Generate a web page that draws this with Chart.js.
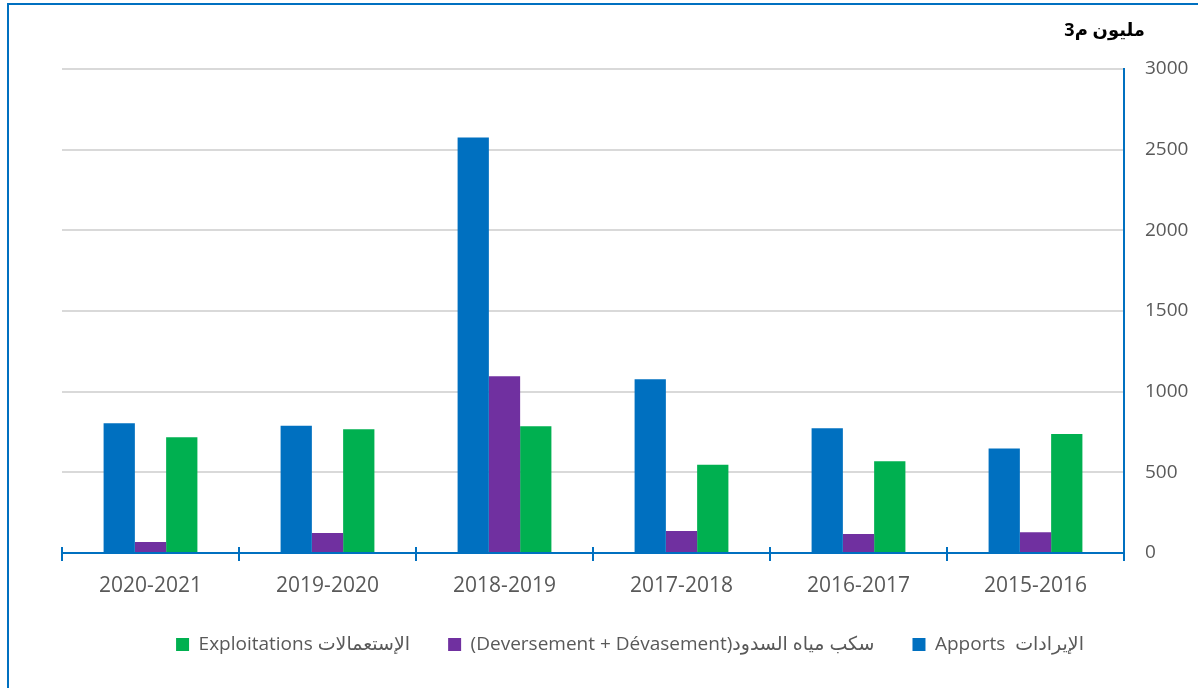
<!DOCTYPE html>
<html>
<head>
<meta charset="utf-8">
<script src="https://cdn.jsdelivr.net/npm/chart.js@4.4.1/dist/chart.umd.min.js"></script>
<style>
  html, body { margin: 0; padding: 0; background: #fff; }
  #wrap { position: relative; width: 1198px; height: 688px; }
  #frame {
    position: absolute; left: 7px; top: 3px; right: -10px; bottom: -10px;
    border-left: 2px solid #0070C0; border-top: 2px solid #0070C0;
    pointer-events: none;
  }
</style>
</head>
<body>
<div id="wrap">
  <canvas id="chart" width="1198" height="688"></canvas>
  <div id="frame"></div>
</div>
<script>
// seasons, shown left to right as in the source
const seasons = ["2020-2021", "2019-2020", "2018-2019", "2017-2018", "2016-2017", "2015-2016"];

// million m3
const apports = [804, 789, 2575, 1077, 773, 647];
const deversement = [68, 124, 1095, 136, 118, 128];
const exploitations = [717, 767, 785, 547, 568, 738];

const yTicks = [0, 500, 1000, 1500, 2000, 2500, 3000];

const unitLabel = "مليون م3";
const seriesLabels = [
  "Apports  الإيرادات",
  "(Deversement + Dévasement)سكب مياه السدود",
  "Exploitations الإستعمالات",
];

const FONT = "'Open Sans', 'DejaVu Sans', sans-serif";
const AXIS_BLUE = "#0070C0";

// unit text above the right axis + tick marks crossing the x axis
const extras = {
  id: "extras",
  afterDraw(chart) {
    const { ctx, chartArea, scales } = chart;
    const x = scales.x;
    const n = seasons.length;
    const step = (x.right - x.left) / n;
    ctx.save();
    ctx.strokeStyle = AXIS_BLUE;
    ctx.lineWidth = 2;
    for (let i = 0; i <= n; i++) {
      const px = Math.round(x.left + i * step);
      ctx.beginPath();
      ctx.moveTo(px, chartArea.bottom - 6);
      ctx.lineTo(px, chartArea.bottom + 8);
      ctx.stroke();
    }
    ctx.fillStyle = "#000";
    ctx.font = "bold 18px " + FONT;
    ctx.textAlign = "right";
    ctx.textBaseline = "middle";
    ctx.fillText(unitLabel, chartArea.right + 21, 31);
    ctx.restore();
  },
};

new Chart(document.getElementById("chart"), {
  type: "bar",
  data: {
    labels: seasons,
    datasets: [
      { label: seriesLabels[0], data: apports, backgroundColor: "#0070C0" },
      { label: seriesLabels[1], data: deversement, backgroundColor: "#7030A0" },
      { label: seriesLabels[2], data: exploitations, backgroundColor: "#00B050" },
    ],
  },
  options: {
    responsive: false,
    animation: false,
    layout: { padding: { left: 62, right: 0, top: 69, bottom: 24 } },
    datasets: {
      bar: { categoryPercentage: 0.53, barPercentage: 1.0 },
    },
    plugins: {
      tooltip: { enabled: false },
      legend: {
        position: "bottom",
        reverse: true,
        labels: {
          boxWidth: 13,
          boxHeight: 13,
          padding: 38,
          color: "#595959",
          font: { family: FONT, size: 19 },
        },
      },
    },
    scales: {
      x: {
        z: 1,
        grid: { display: false, drawTicks: false },
        border: { display: true, color: AXIS_BLUE, width: 2 },
        ticks: {
          color: "#595959",
          font: { family: FONT, size: 21 },
          padding: 20,
          maxRotation: 0,
        },
        afterFit(scale) { scale.height = 44; },
      },
      y: {
        position: "right",
        min: 0,
        max: 3000,
        afterBuildTicks(scale) { scale.ticks = yTicks.map(v => ({ value: v })); },
        grid: { color: "#D9D9D9", lineWidth: 2, drawTicks: false },
        border: { display: true, color: AXIS_BLUE, width: 2 },
        ticks: {
          color: "#595959",
          font: { family: FONT, size: 19 },
          padding: 21,
          callback: v => String(v),
        },
        afterFit(scale) { scale.width = 74; },
      },
    },
  },
  plugins: [extras],
});
</script>
</body>
</html>
